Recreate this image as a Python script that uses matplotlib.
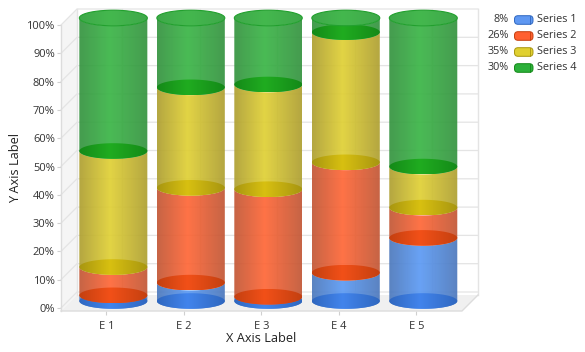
import numpy as np
import matplotlib
matplotlib.use("Agg")
import matplotlib.pyplot as plt
from matplotlib.patches import Polygon, FancyBboxPatch

plt.rcParams['font.family'] = ['Open Sans', 'DejaVu Sans']

# Data (percent of stack)
categories = ["E 1", "E 2", "E 3", "E 4", "E 5"]
series_names = ["Series 1", "Series 2", "Series 3", "Series 4"]
series_1 = [2.0, 6.5, 1.5, 10.0, 22.3]
series_2 = [10.0, 33.5, 38.0, 39.0, 10.7]
series_3 = [41.0, 35.5, 37.0, 46.0, 14.5]
series_4 = [47.0, 24.5, 23.5, 5.0, 52.5]
legend_pct = ["8%", "26%", "35%", "30%"]
y_ticks = [0, 10, 20, 30, 40, 50, 60, 70, 80, 90, 100]

# (edge, centre) colours for body and cap
body_cols = [("#4c78bc", "#5b9af4"), ("#c25634", "#ff6636"), ("#ae9f30", "#e0d034"), ("#34933f", "#3ab546")]
cap_cols = [("#3068c0", "#4284ec"), ("#c44010", "#f25018"), ("#a89610", "#d8c010"), ("#148a18", "#20ac20")]
legend_cols = ["#5f98f2", "#ff6030", "#e0d030", "#2cb03a"]
BODY_ALPHA = 0.92

W, H = 585, 352
fig = plt.figure(figsize=(W / 100, H / 100), dpi=100)

# front plane of the 3d box, in pixels
left, right, bottom, top = 61, 462, 311, 25
ax = fig.add_axes([left / W, 1 - bottom / H, (right - left) / W, (bottom - top) / H])
ax.set_xlim(-0.585, 4.59)
ax.set_ylim(-1.06, 100)
ax.set_aspect('auto')

px_x = (right - left) / (4.59 + 0.585)
px_y = (bottom - top) / 101.06
depth_x = 16 / px_x
depth_y = 16 / px_y
x0, x1 = ax.get_xlim()
y0, y1 = ax.get_ylim()

for s in ax.spines.values():
    s.set_visible(False)
ax.patch.set_visible(False)

# walls and floor
ax.add_patch(Polygon([(x0, y0), (x0 + depth_x, y0 + depth_y), (x0 + depth_x, y1 + depth_y), (x0, y1)],
                     fc="#f5f5f5", ec="none", clip_on=False, zorder=1))
ax.add_patch(Polygon([(x0, y0), (x1, y0), (x1 + depth_x, y0 + depth_y), (x0 + depth_x, y0 + depth_y)],
                     fc="#f0f0f0", ec="none", clip_on=False, zorder=1))
grid_c = "#e4e4e4"
for t in y_ticks:
    ax.plot([x0, x0 + depth_x, x1 + depth_x], [t, t + depth_y, t + depth_y], color=grid_c, lw=0.9,
            clip_on=False, zorder=2)
for i in range(len(categories)):
    ax.plot([i + depth_x, i + depth_x], [y0 + depth_y, y1 + depth_y], color=grid_c, lw=0.9, clip_on=False, zorder=2)
ax.plot([x0 + depth_x, x0 + depth_x], [y0 + depth_y, y1 + depth_y], color=grid_c, lw=1, clip_on=False, zorder=2)
ax.plot([x1 + depth_x, x1 + depth_x], [y0 + depth_y, y1 + depth_y], color=grid_c, lw=1, clip_on=False, zorder=2)
ax.plot([x0, x0], [y0, y1], color="#dcdcdc", lw=1, clip_on=False, zorder=2)
ax.plot([x0, x1, x1 + depth_x], [y0, y0, y0 + depth_y], color="#dcdcdc", lw=1, clip_on=False, zorder=2)


def gradient(cols, alpha):
    e = np.array(matplotlib.colors.to_rgb(cols[0]))
    c = np.array(matplotlib.colors.to_rgb(cols[1]))
    u = np.linspace(0, 1, 68)
    k = np.interp(u, [0, 0.45, 1], [0, 1, 0])[:, None]
    rgb = e + (c - e) * k
    return np.dstack([rgb[None, :, :], np.full((1, 68, 1), alpha)])


def paint(verts, cols, alpha, xa, xb, ya, yb, z):
    clip = Polygon(verts, transform=ax.transData, fc="none", ec="none")
    im = ax.imshow(gradient(cols, alpha), extent=[xa, xb, ya, yb], aspect='auto', zorder=z,
                   interpolation='bilinear')
    im.set_clip_box(fig.bbox)
    im.set_clip_path(clip)


# cylinders
half_w = 34 / px_x
ry = 7.8 / px_y
theta = np.linspace(0, 2 * np.pi, 90)
low = np.linspace(np.pi, 2 * np.pi, 45)
offset_x = 7 / px_x
offset_y = 7 / px_y
series = [series_1, series_2, series_3, series_4]

for i in range(len(categories)):
    cx = i + offset_x
    base = offset_y
    z = 3
    for k, vals in enumerate(series):
        top_v = base + vals[i]
        bx = cx + half_w * np.cos(low)
        by = base + ry * np.sin(low)
        tx = (cx + half_w * np.cos(low))[::-1]
        ty = (top_v + ry * np.sin(low))[::-1]
        verts = np.column_stack([np.r_[bx, tx], np.r_[by, ty]])
        paint(verts, body_cols[k], BODY_ALPHA, cx - half_w, cx + half_w, base - ry, top_v + ry, z)
        ell = np.column_stack([cx + half_w * np.cos(theta), base + ry * np.sin(theta)])
        paint(ell, cap_cols[k], 1.0, cx - half_w, cx + half_w, base - ry, base + ry, z + 1)
        z += 2
        base = top_v
    # top cap of the stack
    ell = np.column_stack([cx + half_w * np.cos(theta), base + ry * np.sin(theta)])
    paint(ell, ("#3fa84a", "#44b84e"), 1.0, cx - half_w, cx + half_w, base - ry, base + ry, z)
    ax.add_patch(Polygon(ell, fc="none", ec="#22a02e", lw=0.8, clip_on=False, zorder=z + 1))

ax.set_xlim(x0, x1)
ax.set_ylim(y0, y1)

ax.set_xticks(range(len(categories)))
ax.set_xticklabels(categories)
ax.set_yticks(y_ticks)
ax.set_yticklabels([f"{t}%" for t in y_ticks])
ax.tick_params(axis='both', length=3, width=0.8, color="#d0d0d0", labelsize=8, labelcolor="#333333", pad=1.5)
ax.tick_params(axis='x', pad=4)

fig.text(261 / W, 1 - 338 / H, "X Axis Label", ha='center', va='center', fontsize=9.2, color="#222222")
fig.text(16 / W, 1 - 168 / H, "Y Axis Label", ha='center', va='center', rotation=90, fontsize=9.2, color="#222222")

# legend
leg = fig.add_axes([0, 0, 1, 1])
leg.set_xlim(0, W)
leg.set_ylim(H, 0)
leg.axis('off')
for k, name in enumerate(series_names):
    yc = 20 + k * 16
    leg.text(509, yc, legend_pct[k], ha='right', va='center', fontsize=7.8, color="#333333")
    leg.add_patch(FancyBboxPatch((514.5, yc - 4.3), 18.5, 8.6, boxstyle="round,pad=0,rounding_size=3.5",
                                 fc=legend_cols[k], ec=cap_cols[k][0], lw=0.7))
    leg.plot([529.5, 529.5], [yc - 4, yc + 4], color=cap_cols[k][0], lw=0.6)
    leg.text(537, yc, name, ha='left', va='center', fontsize=7.8, color="#333333")
leg.set_xlim(0, W)
leg.set_ylim(H, 0)

fig.savefig("out.png", dpi=100)
